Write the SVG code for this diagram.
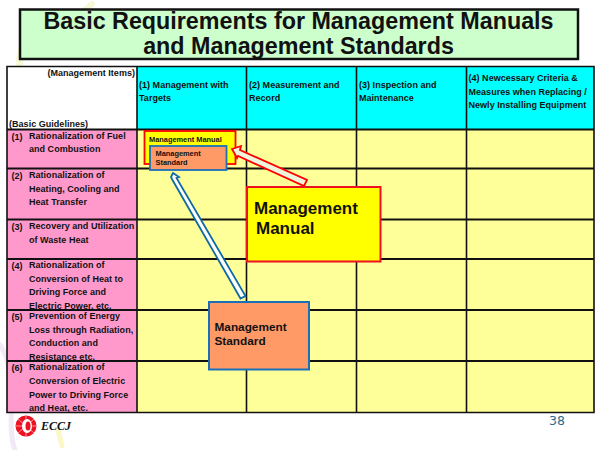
<svg xmlns="http://www.w3.org/2000/svg" width="600" height="450" viewBox="0 0 600 450">
<style>
text{font-family:"Liberation Sans",Arial,sans-serif;fill:#111;font-weight:bold}
.t{font-size:23.3px;text-anchor:middle}
.c{font-size:9px;letter-spacing:.03px}
.s{font-size:7.400px}
.m{font-size:17px}
.b{font-size:11.800px}
.g{stroke:#111;stroke-width:1.6;fill:none}
.h{stroke:#111;stroke-width:2.2;fill:none}
</style>
<rect width="600" height="450" fill="#fff"/>
<g id="watermark" fill="none" stroke-linecap="round">
<path d="M20 70C15 35 50 15 90 15" stroke="#f6f8d8" stroke-width="7"/>
<path d="M85 10L92 4" stroke="#f6f8d8" stroke-width="6"/>
<path d="M0 345C20 375 5 425 15 450" stroke="#f2e8f6" stroke-width="5"/>
<path d="M58 430L62 446" stroke="#fbf8c8" stroke-width="5"/>
</g>
<g id="title">
<rect x="20" y="9.500" width="558" height="49.500" fill="#ccffcc" stroke="#111" stroke-width="2.500"/>
<text class="t" x="298.500" y="29">Basic Requirements for Management Manuals</text>
<text class="t" x="298.500" y="54">and Management Standards</text>
</g>
<g id="table">
<rect x="7" y="66.500" width="130" height="63" fill="#fff"/>
<rect x="137" y="66.500" width="457" height="63" fill="#00ffff"/>
<rect x="7" y="129.500" width="130" height="283" fill="#ff99cc"/>
<rect x="137" y="129.500" width="457" height="283" fill="#ffff99"/>
<path class="g" d="M7 66.500H594V412.500H7ZM137 66.500V412.500M246.500 66.500V412.500M356.500 66.500V412.500M466.500 66.500V412.500"/>
<path class="h" d="M7 129.500H594M7 168.500H594M7 219.500H594M7 259H594M7 310H594M7 361H594"/>
<g id="column-headers">
<text class="c" x="135" y="76" text-anchor="end">(Management Items)</text>
<text class="c" x="9" y="127">(Basic Guidelines)</text>
<text class="c" x="139" y="88">(1) Management with</text>
<text class="c" x="139" y="101">Targets</text>
<text class="c" x="249" y="88">(2) Measurement and</text>
<text class="c" x="249" y="101">Record</text>
<text class="c" x="359" y="88">(3) Inspection and</text>
<text class="c" x="359" y="101">Maintenance</text>
<text class="c" x="468.500" y="81">(4) Newcessary Criteria &amp;</text>
<text class="c" x="468.500" y="95">Measures when Replacing /</text>
<text class="c" x="468.500" y="108">Newly Installing Equipment</text>
</g>
<g id="row-headers">
<text class="c" x="11.500" y="140">(1)</text><text class="c" x="29" y="139">Rationalization of Fuel</text><text class="c" x="29" y="152">and Combustion</text>
<text class="c" x="11.500" y="179">(2)</text><text class="c" x="29" y="178">Rationalization of</text><text class="c" x="29" y="191.500">Heating, Cooling and</text><text class="c" x="29" y="204.500">Heat Transfer</text>
<text class="c" x="11.500" y="230">(3)</text><text class="c" x="29" y="229">Recovery and Utilization</text><text class="c" x="29" y="243">of Waste Heat</text>
<text class="c" x="11.500" y="269">(4)</text><text class="c" x="29" y="268">Rationalization of</text><text class="c" x="29" y="281.500">Conversion of Heat to</text><text class="c" x="29" y="295">Driving Force and</text><text class="c" x="29" y="308.500">Electric Power, etc.</text>
<text class="c" x="11.500" y="320">(5)</text><text class="c" x="29" y="319">Prevention of Energy</text><text class="c" x="29" y="333">Loss through Radiation,</text><text class="c" x="29" y="346">Conduction and</text><text class="c" x="29" y="359.500">Resistance etc.</text>
<text class="c" x="11.500" y="371">(6)</text><text class="c" x="29" y="370">Rationalization of</text><text class="c" x="29" y="384">Conversion of Electric</text><text class="c" x="29" y="397.500">Power to Driving Force</text><text class="c" x="29" y="411">and Heat, etc.</text>
</g>
</g>
<g id="small-manual">
<rect x="144.500" y="131" width="91" height="33" fill="#ffff00" stroke="#ff0000" stroke-width="1.800"/>
<text class="s" x="149" y="142">Management Manual</text>
</g>
<g id="small-standard">
<rect x="150" y="146" width="76.500" height="24" fill="#ff9966" stroke="#1a70b8" stroke-width="1.800"/>
<text class="s" x="155.500" y="156">Management</text>
<text class="s" x="155.500" y="165">Standard</text>
</g>
<g id="connectors">
<path d="M232 149L241 146L240 150L307 180L304 186L238 156L237 158Z" fill="#eef3dc" stroke="#ff0000" stroke-width="1.800"/>
<path d="M173 173L179 177L176.500 178L245.500 296L240.500 298.500L172.500 180L171 177Z" fill="#fff" stroke="#0f6aa5" stroke-width="1.800"/>
</g>
<g id="large-manual">
<rect x="247" y="187" width="133.500" height="74.500" fill="#ffff00" stroke="#ee1122" stroke-width="2"/>
<text class="m" x="254" y="214">Management</text>
<text class="m" x="256" y="234">Manual</text>
</g>
<g id="large-standard">
<rect x="209" y="302" width="100" height="67.500" fill="#ff9966" stroke="#1a70b8" stroke-width="2"/>
<text class="b" x="214.500" y="331">Management</text>
<text class="b" x="214.500" y="345">Standard</text>
</g>
<g id="footer">
<circle cx="26" cy="426" r="10.500" fill="#ee1122"/>
<g stroke="#ffb0a8" stroke-width=".8"><path d="M16 426H36M18 419L34 433M18 433L34 419M26 416V436"/></g>
<ellipse cx="27" cy="426" rx="5" ry="7" fill="#fff"/>
<ellipse cx="28" cy="426" rx="2.500" ry="4.500" fill="#ee1122"/>
<text x="41" y="430" font-size="12" style="font-family:'Liberation Serif',serif;font-style:italic">ECCJ</text>
<text x="557" y="425" text-anchor="middle" style="font-weight:normal;fill:#2a6a8a;font-size:12.500px;font-family:'DejaVu Sans',sans-serif">38</text>
</g>
</svg>
